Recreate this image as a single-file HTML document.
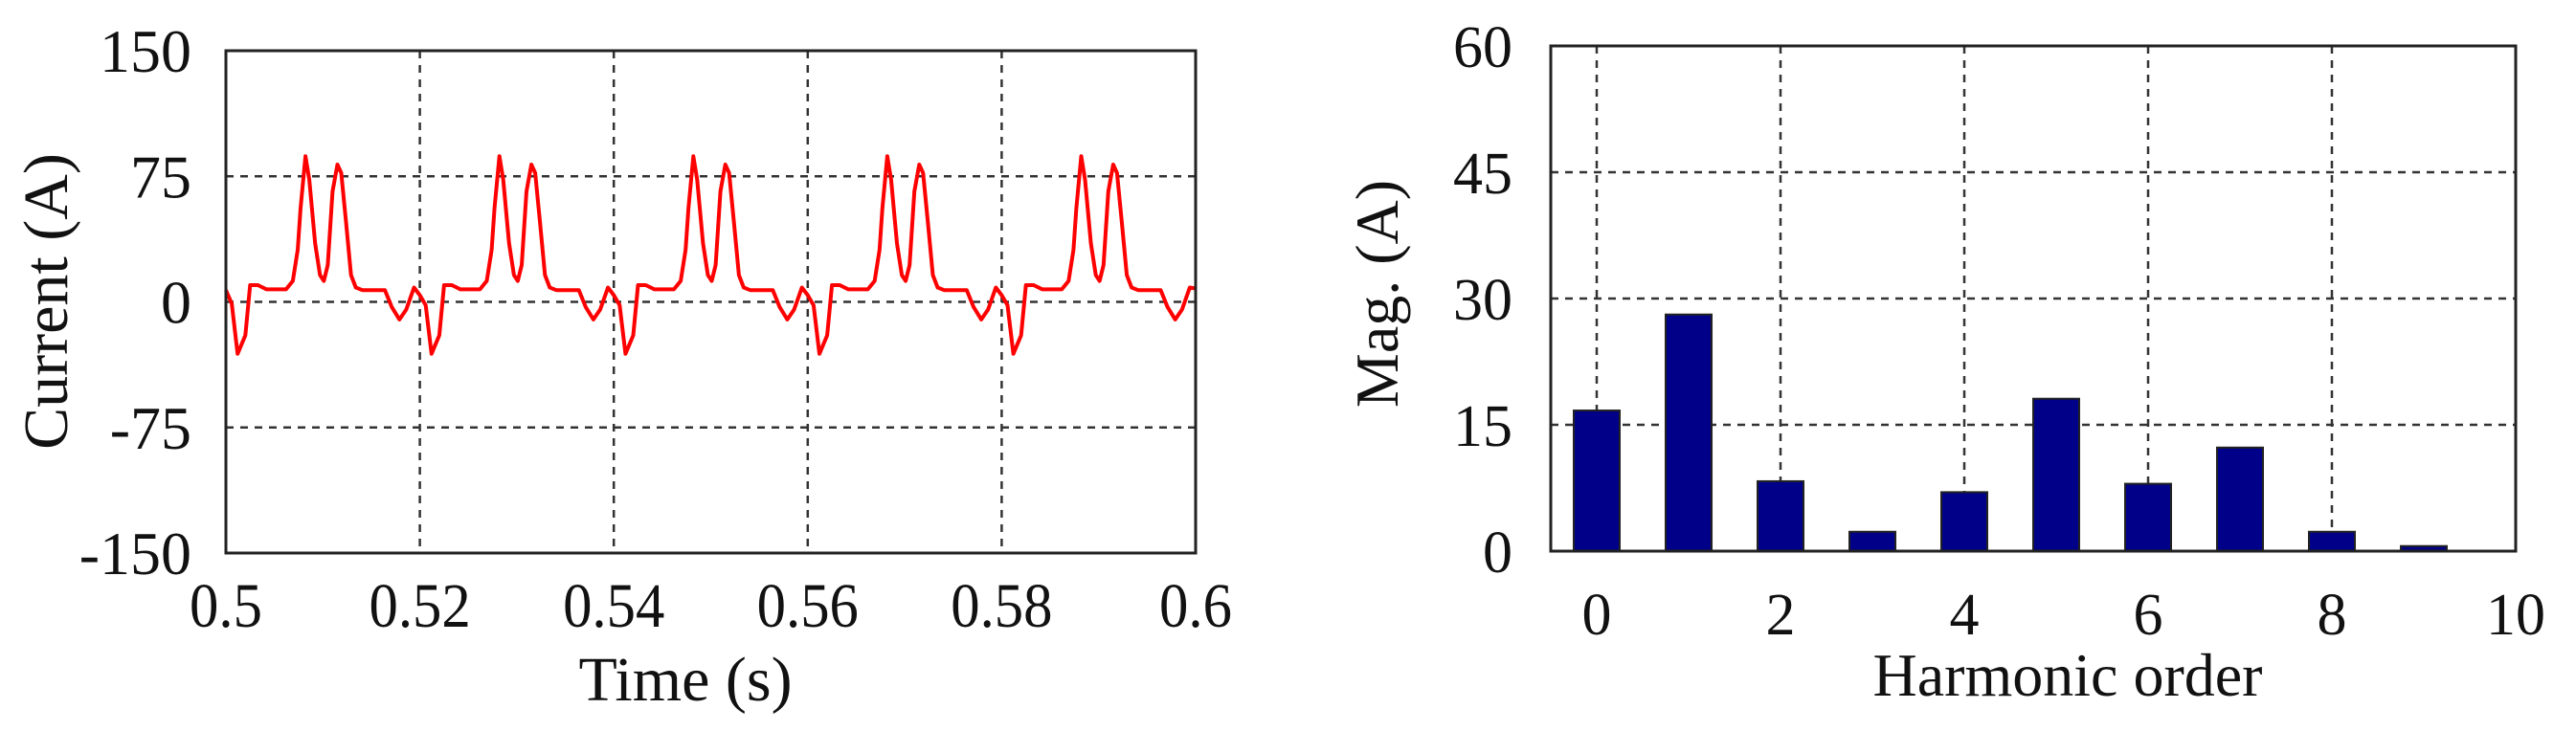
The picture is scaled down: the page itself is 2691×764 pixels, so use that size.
<!DOCTYPE html>
<html><head><meta charset="utf-8"><style>
html,body{margin:0;padding:0;background:#fff;}
svg{display:block;}
text{font-family:"Liberation Serif",serif;fill:#111;}
</style></head><body>
<svg id="chart" width="2691" height="764" viewBox="0 0 2691 764">
<g id="left"></g>
<g id="right"></g>
</svg>
<script>
// ---- Left chart data ----
const timeMs = [
500,500.6,501.2,502,502.5,503.3,504.2,506.2,506.9,507.4,507.7,508.2,508.6,509.2,509.7,510.1,510.5,511,511.5,511.9,512.4,512.9,513.4,514.1,516.4,517.1,517.9,518.6,519.4,
520,520.6,521.2,522,522.5,523.3,524.2,526.2,526.9,527.4,527.7,528.2,528.6,529.2,529.7,530.1,530.5,531,531.5,531.9,532.4,532.9,533.4,534.1,536.4,537.1,537.9,538.6,539.4,
540,540.6,541.2,542,542.5,543.3,544.2,546.2,546.9,547.4,547.7,548.2,548.6,549.2,549.7,550.1,550.5,551,551.5,551.9,552.4,552.9,553.4,554.1,556.4,557.1,557.9,558.6,559.4,
560,560.6,561.2,562,562.5,563.3,564.2,566.2,566.9,567.4,567.7,568.2,568.6,569.2,569.7,570.1,570.5,571,571.5,571.9,572.4,572.9,573.4,574.1,576.4,577.1,577.9,578.6,579.4,
580,580.6,581.2,582,582.5,583.3,584.2,586.2,586.9,587.4,587.7,588.2,588.6,589.2,589.7,590.1,590.5,591,591.5,591.9,592.4,592.9,593.4,594.1,596.4,597.1,597.9,598.6,599.4,
600];
const currentA = [
7,-1,-31,-20,10,10,7.5,7.5,12.5,31,56,87,73,35,16,12.5,22,66,82,77,47,16,8.6,7,7,-3,-10.5,-4.6,8.6,
4,-2,-31,-20,10,10,7.5,7.5,12.5,31,56,87,73,35,16,12.5,22,66,82,77,47,16,8.6,7,7,-3,-10.5,-4.6,8.6,
4,-2,-31,-20,10,10,7.5,7.5,12.5,31,56,87,73,35,16,12.5,22,66,82,77,47,16,8.6,7,7,-3,-10.5,-4.6,8.6,
4,-2,-31,-20,10,10,7.5,7.5,12.5,31,56,87,73,35,16,12.5,22,66,82,77,47,16,8.6,7,7,-3,-10.5,-4.6,8.6,
4,-2,-31,-20,10,10,7.5,7.5,12.5,31,56,87,73,35,16,12.5,22,66,82,77,47,16,8.6,7,7,-3,-10.5,-4.6,8.6,
8];
const leftXTicks = [0.5,0.52,0.54,0.56,0.58,0.6];
const leftXTickLabels = ["0.5","0.52","0.54","0.56","0.58","0.6"];
const leftYTicks = [150,75,0,-75,-150];
const leftYTickLabels = ["150","75","0","-75","-150"];

// ---- Right chart data ----
const harmonicOrders = [0,1,2,3,4,5,6,7,8,9];
const magnitudes = [16.7,28.1,8.3,2.3,7.0,18.1,8.0,12.3,2.3,0.6];
const rightXTicks = [0,2,4,6,8,10];
const rightXTickLabels = ["0","2","4","6","8","10"];
const rightYTicks = [60,45,30,15,0];
const rightYTickLabels = ["60","45","30","15","0"];

const NS = "http://www.w3.org/2000/svg";
function mk(parent, tag, attrs, txt){
  const e = document.createElementNS(NS, tag);
  for (const k in attrs) e.setAttribute(k, attrs[k]);
  if (txt !== undefined) e.textContent = txt;
  parent.appendChild(e);
  return e;
}

// Left axes
const L = {x0:236, x1:1249, y0:53, y1:578};
const lx = t => L.x0 + (t-0.5)/(0.1)*(L.x1-L.x0);
const ly = v => L.y1 - (v+150)/300*(L.y1-L.y0);
const gL = document.getElementById('left');
leftXTicks.forEach((t,i)=>{
  if(i>0 && i<leftXTicks.length-1){
    const g = mk(gL,'line',{x1:lx(t),x2:lx(t),y1:L.y0,y2:L.y1,stroke:'#333','stroke-width':2.5,'stroke-dasharray':'8,7'});
    
    
  }
  const tx = mk(gL,'text',{x:lx(t),y:655,'font-size':66,'text-anchor':'middle',transform:`translate(${lx(t)},0) scale(0.92,1) translate(${-lx(t)},0)`},leftXTickLabels[i]);
  
  
});
leftYTicks.forEach((v,i)=>{
  if(v!==150 && v!==-150){
    const g = mk(gL,'line',{x1:L.x0,x2:L.x1,y1:ly(v),y2:ly(v),stroke:'#333','stroke-width':2.5,'stroke-dasharray':'8,7'});
    
    
  }
  const tx = mk(gL,'text',{x:200,y:ly(v)+22,'font-size':64,'text-anchor':'end'},leftYTickLabels[i]);
  
  
});
const pts = timeMs.map((t,i)=>`${lx(t/1000).toFixed(1)},${ly(currentA[i]).toFixed(1)}`).join(' ');
const wave = mk(gL,'polyline',{points:pts,fill:'none',stroke:'#ff0000','stroke-width':4,'stroke-linejoin':'round'});


const boxL = mk(gL,'rect',{x:L.x0,y:L.y0,width:L.x1-L.x0,height:L.y1-L.y0,fill:'none',stroke:'#222','stroke-width':3});


const ylabL = mk(gL,'text',{x:0,y:0,'font-size':66,'text-anchor':'middle',transform:'translate(70,315) rotate(-90)'},'Current (A)');


const xlabL = mk(gL,'text',{x:716,y:732,'font-size':66,'text-anchor':'middle'},'Time (s)');



// Right axes
const R = {x0:1620, x1:2628, y0:48, y1:576};
const rx = h => R.x0 + (h+0.5)/10.5*(R.x1-R.x0);
const ry = v => R.y1 - v/60*(R.y1-R.y0);
const gR = document.getElementById('right');
rightXTicks.forEach((h,i)=>{
  if(h<10){
    const g = mk(gR,'line',{x1:rx(h),x2:rx(h),y1:R.y0,y2:R.y1,stroke:'#333','stroke-width':2.5,'stroke-dasharray':'8,7'});
    
    
  }
  const tx = mk(gR,'text',{x:rx(h),y:663,'font-size':62,'text-anchor':'middle'},rightXTickLabels[i]);
  
  
});
rightYTicks.forEach((v,i)=>{
  if(v>0 && v<60){
    const g = mk(gR,'line',{x1:R.x0,x2:R.x1,y1:ry(v),y2:ry(v),stroke:'#333','stroke-width':2.5,'stroke-dasharray':'8,7'});
    
    
  }
  const tx = mk(gR,'text',{x:1580,y:ry(v)+22,'font-size':62,'text-anchor':'end'},rightYTickLabels[i]);
  
  
});
harmonicOrders.forEach((h,i)=>{
  const w = 0.5/10.5*(R.x1-R.x0);
  const b = mk(gR,'rect',{x:rx(h)-w/2,y:ry(magnitudes[i]),width:w,height:R.y1-ry(magnitudes[i]),fill:'#000088',stroke:'#222','stroke-width':2});
  
  
});
const boxR = mk(gR,'rect',{x:R.x0,y:R.y0,width:R.x1-R.x0,height:R.y1-R.y0,fill:'none',stroke:'#222','stroke-width':3});


const ylabR = mk(gR,'text',{x:0,y:0,'font-size':64,'text-anchor':'middle',transform:'translate(1460,307) rotate(-90)'},'Mag. (A)');


const xlabR = mk(gR,'text',{x:2160,y:727,'font-size':64,'text-anchor':'middle'},'Harmonic order');


</script>
</body></html>
